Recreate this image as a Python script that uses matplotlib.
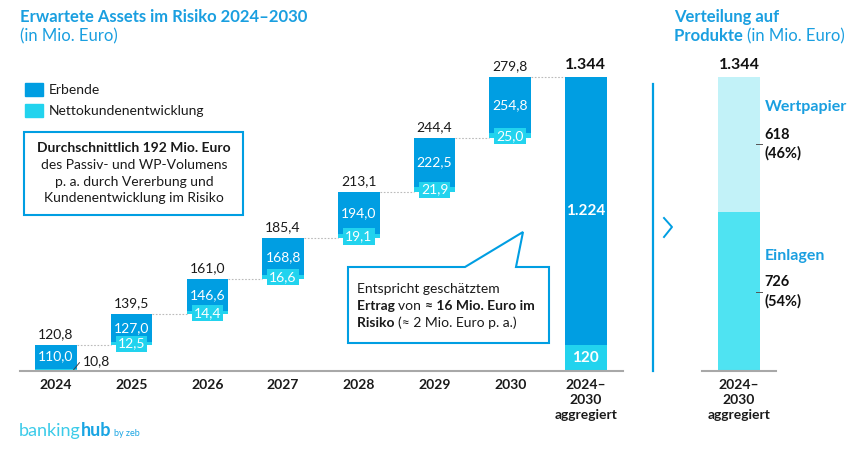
import matplotlib
matplotlib.use("Agg")
import matplotlib.pyplot as plt
from matplotlib.patches import Rectangle, Polygon
from matplotlib.lines import Line2D

plt.rcParams['font.family'] = ['Lato', 'DejaVu Sans']

W, H = 862, 454

years = ['2024', '2025', '2026', '2027', '2028', '2029', '2030']
erbende = [110.0, 127.0, 146.6, 168.8, 194.0, 222.5, 254.8]
netto = [10.8, 12.5, 14.4, 16.6, 19.1, 21.9, 25.0]
totals = [120.8, 139.5, 161.0, 185.4, 213.1, 244.4, 279.8]
agg_label = '2024–\n2030\naggregiert'
agg_erbende = 1224
agg_netto = 120
agg_total = 1344
produkte = ['Einlagen', 'Wertpapier']
produkte_werte = [726, 618]
produkte_anteile = [54, 46]

blue = '#009ee2'
cyan = '#22d3ee'
einl_col = '#4fe3f2'
wp_col = '#c2f2f8'
title_col = '#1a9fe0'
grey = '#a8a8a8'


def de(v):
    return f"{v:.1f}".replace('.', ',')


def fx(x):
    return x / W


def fy(y):
    return 1 - y / H


fig = plt.figure(figsize=(W / 100, H / 100), dpi=100)
renderer = fig.canvas.get_renderer()

# main waterfall axes
ax = fig.add_axes([fx(20), fy(371), (623 - 20) / W, 311 / H])
ymax = 1421
ax.set_ylim(0, ymax)
ax.set_xlim(-0.475, 7.49)
for s in ['top', 'right', 'left']:
    ax.spines[s].set_visible(False)
ax.spines['bottom'].set_color(grey)
ax.spines['bottom'].set_linewidth(1.5)
ax.set_yticks([])
bw = 0.55

start = 0.0
for i in range(len(years)):
    ax.bar(i, netto[i], bottom=start, width=bw, color=cyan, zorder=2)
    ax.bar(i, erbende[i], bottom=start + netto[i], width=bw, color=blue, zorder=2)
    top = start + totals[i]
    ax.text(i, top + 22, de(totals[i]), ha='center', va='bottom', fontsize=10, color='#1a1a1a')
    ax.text(i, start + netto[i] + erbende[i] / 2, de(erbende[i]), ha='center', va='center',
            fontsize=10, color='white', zorder=4)
    if i == 0:
        ax.text(i + 0.36, netto[i] + 35, de(netto[i]), ha='left', va='center',
                fontsize=10, color='#1a1a1a')
        ax.plot([i + 0.22, i + 0.31], [0, 38], color='#444444', lw=0.7)
    else:
        ax.text(i, start + netto[i] / 2 - 2, de(netto[i]), ha='center', va='center',
                fontsize=10, color='white', zorder=4,
                bbox=dict(boxstyle='square,pad=0.15', fc=cyan, ec='none'))
    # connector to next bar
    ax.hlines(top, i + bw / 2, i + 1 - bw / 2, colors='#bbbbbb', linestyles=(0, (1.5, 1.5)), lw=0.8, zorder=1)
    start = top

ia = len(years)
ax.bar(ia, agg_netto, width=bw, color=cyan, zorder=2)
ax.bar(ia, agg_erbende, bottom=agg_netto, width=bw, color=blue, zorder=2)
ax.text(ia, agg_total + 22, '1.344', ha='center', va='bottom', fontsize=11.5, fontweight='bold', color='#111111')
ax.text(ia, agg_netto + agg_erbende / 2, '1.224', ha='center', va='center', fontsize=11,
        fontweight='bold', color='white')
ax.text(ia, agg_netto / 2, str(agg_netto), ha='center', va='center', fontsize=11,
        fontweight='bold', color='white')

ax.set_xticks(range(len(years) + 1))
ax.set_xticklabels(years + [agg_label], fontsize=10, fontweight='bold', color='#1a1a1a',
                   linespacing=1.3)
ax.tick_params(axis='x', length=0, pad=6)

# right axes: distribution
ax2 = fig.add_axes([fx(702), fy(371), 74 / W, 311 / H])
ax2.set_ylim(0, ymax)
ax2.set_xlim(-0.88, 0.88)
for s in ['top', 'right', 'left']:
    ax2.spines[s].set_visible(False)
ax2.spines['bottom'].set_color(grey)
ax2.spines['bottom'].set_linewidth(1.5)
ax2.set_yticks([])
ax2.bar(0, produkte_werte[0], width=1, color=einl_col)
ax2.bar(0, produkte_werte[1], bottom=produkte_werte[0], width=1, color=wp_col)
ax2.text(0, agg_total + 22, '1.344', ha='center', va='bottom', fontsize=11.5, fontweight='bold', color='#111111')
ax2.set_xticks([0])
ax2.set_xticklabels([agg_label], fontsize=10, fontweight='bold', color='#1a1a1a', linespacing=1.3)
ax2.tick_params(axis='x', length=0, pad=6)

# segment labels on the right
ypos_w = produkte_werte[0] + produkte_werte[1] / 2
ypos_e = produkte_werte[0] / 2
for lab, val, sh, yv, ylab in [(produkte[1], produkte_werte[1], produkte_anteile[1], ypos_w, 107),
                               (produkte[0], produkte_werte[0], produkte_anteile[0], ypos_e, 256)]:
    ax2.text(0.6, yv, f"{val}\n({sh}%)", ha='left', va='center', fontsize=10.5,
             fontweight='bold', color='#111111', linespacing=1.4)
    ax2.plot([0.4, 0.55], [yv, yv], color='#555555', lw=0.7, clip_on=False)
    fig.text(fx(765), fy(ylab), lab, ha='left', va='center', fontsize=11.5, fontweight='bold', color=title_col)

# titles
fig.text(fx(20), fy(17), 'Erwartete Assets im Risiko 2024–2030', fontsize=12, fontweight='bold',
         color=title_col, va='center')
fig.text(fx(20), fy(36), '(in Mio. Euro)', fontsize=12, color=title_col, va='center')
fig.text(fx(674), fy(17), 'Verteilung auf', fontsize=12, fontweight='bold', color=title_col, va='center')
t = fig.text(fx(674), fy(36), 'Produkte ', fontsize=12, fontweight='bold', color=title_col, va='center')
wpx = t.get_window_extent(renderer=renderer).width
fig.text(fx(674 + wpx), fy(36), '(in Mio. Euro)', fontsize=12, color=title_col, va='center')

# legend
fig.patches.append(Rectangle((fx(25), fy(96)), 18 / W, 13 / H, transform=fig.transFigure, color=blue))
fig.patches.append(Rectangle((fx(25), fy(117)), 18 / W, 13 / H, transform=fig.transFigure, color=cyan))
fig.text(fx(49), fy(90), 'Erbende', fontsize=10, va='center', color='#1a1a1a')
fig.text(fx(49), fy(111), 'Nettokundenentwicklung', fontsize=10, va='center', color='#1a1a1a')

# left info box
fig.patches.append(Rectangle((fx(24), fy(215)), (243 - 24) / W, (215 - 132) / H, transform=fig.transFigure,
                             fill=False, ec=blue, lw=1.5))
fig.text(fx(134), fy(148), 'Durchschnittlich 192 Mio. Euro', ha='center', va='center', fontsize=10,
         fontweight='bold', color='#1a1a1a')
for k, line in enumerate(['des Passiv- und WP-Volumens', 'p. a. durch Vererbung und',
                          'Kundenentwicklung im Risiko']):
    fig.text(fx(134), fy(165 + 16.5 * k), line, ha='center', va='center', fontsize=10, color='#1a1a1a')

# callout box
pts = [(348, 267), (465, 267), (523, 232), (516, 267), (549, 267), (549, 343), (348, 343)]
fig.patches.append(Polygon([(fx(a), fy(b)) for a, b in pts], closed=True, transform=fig.transFigure,
                           fill=True, fc='white', ec=blue, lw=1.5, zorder=5))


def rich(x, y, parts, size=10):
    for s, w in parts:
        tt = fig.text(fx(x), fy(y), s, fontsize=size, fontweight=w, va='center', ha='left',
                      color='#1a1a1a', zorder=6)
        x += tt.get_window_extent(renderer=renderer).width


rich(357, 289, [('Entspricht geschätztem', 'normal')])
rich(357, 306, [('Ertrag ', 'bold'), ('von ', 'normal'), ('≈ 16 Mio. Euro im', 'bold')])
rich(357, 323, [('Risiko ', 'bold'), ('(≈ 2 Mio. Euro p. a.)', 'normal')])

# divider and chevron
fig.lines.append(Line2D([fx(653), fx(653)], [fy(84), fy(371)], transform=fig.transFigure, color=blue, lw=1.6))
fig.lines.append(Line2D([fx(664), fx(672), fx(664)], [fy(218), fy(227), fy(237)], transform=fig.transFigure,
                        color=blue, lw=1.4))

# logo
t1 = fig.text(fx(19), fy(431), 'banking', fontsize=13, color='#3ccbe9', va='center')
w1 = t1.get_window_extent(renderer=renderer).width
t2 = fig.text(fx(19 + w1), fy(431), 'hub', fontsize=13, fontweight='bold', color='#1aa5e3', va='center')
w2 = t2.get_window_extent(renderer=renderer).width
fig.text(fx(19 + w1 + w2 + 3), fy(434), 'by zeb', fontsize=6.5, color='#1aa5e3', va='center')

fig.savefig('out.png', dpi=100)
